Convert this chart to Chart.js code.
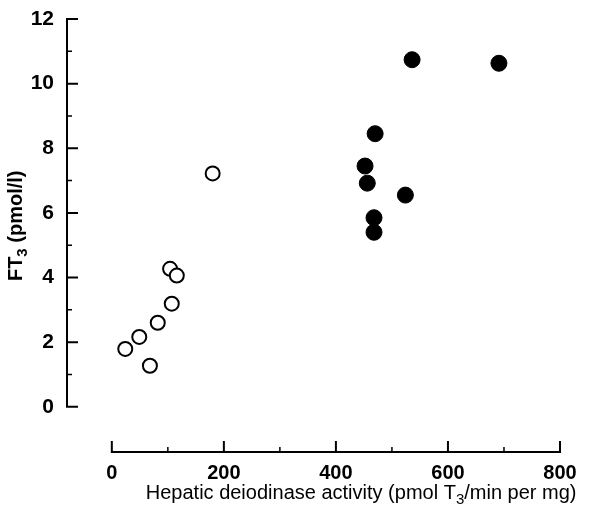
<!DOCTYPE html>
<html>
<head>
<meta charset="utf-8">
<script src="https://cdn.jsdelivr.net/npm/chart.js@4"></script>
<style>
  html, body { margin: 0; padding: 0; background: #fff; }
  #wrap { width: 603px; height: 519px; }
</style>
</head>
<body>
<div id="wrap"><canvas id="c" width="603" height="519"></canvas></div>
<script>
// ---- data ----
const openX   = [24, 49, 68, 82, 104, 107, 116, 180];
const openY   = [1.79, 2.16, 1.27, 2.60, 4.27, 3.19, 4.06, 7.22];
const filledX = [536, 691, 470, 452, 456, 524, 468, 468];
const filledY = [10.74, 10.63, 8.45, 7.45, 6.92, 6.55, 5.85, 5.40];

const xTickValues = [0, 200, 400, 600, 800];
const xMinorTicks = [100, 300, 500, 700];
const yTickValues = [0, 2, 4, 6, 8, 10, 12];
const yMinorTicks = [1, 3, 5, 7, 9, 11];

const xTitle = ['Hepatic deiodinase activity (pmol T', '3', '/min per mg)'];
const yTitle = ['FT', '3', ' (pmol/l)'];

const FAM = '"Liberation Sans", Arial, sans-serif';
const toPts = (xs, ys) => xs.map((x, i) => ({ x: x, y: ys[i] }));

function drawSubText(ctx, parts, mainFont, subFont, x, y, drop) {
  ctx.font = mainFont; const w0 = ctx.measureText(parts[0]).width;
  ctx.font = subFont;  const w1 = ctx.measureText(parts[1]).width;
  ctx.font = mainFont; const w2 = ctx.measureText(parts[2]).width;
  let sx = x - (w0 + w1 + w2) / 2;
  ctx.font = mainFont; ctx.fillText(parts[0], sx, y);
  ctx.font = subFont;  ctx.fillText(parts[1], sx + w0, y + drop);
  ctx.font = mainFont; ctx.fillText(parts[2], sx + w0 + w1, y);
}

const axisPlugin = {
  id: 'axisPlugin',
  afterDraw(chart) {
    const ctx = chart.ctx, xs = chart.scales.x, ys = chart.scales.y, ca = chart.chartArea;
    ctx.save();
    ctx.strokeStyle = '#000';
    ctx.lineCap = 'butt';
    // y axis
    const yx = ca.left;
    ctx.lineWidth = 2;
    ctx.beginPath();
    ctx.moveTo(yx, ys.getPixelForValue(yTickValues[0]) + 1);
    ctx.lineTo(yx, ys.getPixelForValue(yTickValues[yTickValues.length - 1]) - 1);
    yTickValues.forEach(v => { const p = ys.getPixelForValue(v); ctx.moveTo(yx - 1, p); ctx.lineTo(yx + 11, p); });
    ctx.stroke();
    ctx.lineWidth = 1.5;
    ctx.beginPath();
    yMinorTicks.forEach(v => { const p = ys.getPixelForValue(v); ctx.moveTo(yx, p); ctx.lineTo(yx + 5, p); });
    ctx.stroke();
    // x axis
    const xy = ca.bottom;
    ctx.lineWidth = 2;
    ctx.beginPath();
    ctx.moveTo(xs.getPixelForValue(xTickValues[0]) - 1, xy);
    ctx.lineTo(xs.getPixelForValue(xTickValues[xTickValues.length - 1]) + 1, xy);
    xTickValues.forEach(v => { const p = xs.getPixelForValue(v); ctx.moveTo(p, xy + 1); ctx.lineTo(p, xy - 11); });
    ctx.stroke();
    ctx.lineWidth = 1.5;
    ctx.beginPath();
    xMinorTicks.forEach(v => { const p = xs.getPixelForValue(v); ctx.moveTo(p, xy); ctx.lineTo(p, xy - 5); });
    ctx.stroke();

    // titles with subscripts
    ctx.fillStyle = '#000';
    ctx.textBaseline = 'alphabetic';
    drawSubText(ctx, xTitle, '20px ' + FAM, '15px ' + FAM,
                xs.getPixelForValue(445), xy + 47, 5);

    ctx.save();
    ctx.translate(22, ys.getPixelForValue(5.6));
    ctx.rotate(-Math.PI / 2);
    drawSubText(ctx, yTitle, 'bold 20px ' + FAM, 'bold 15px ' + FAM, 0, 0, 5);
    ctx.restore();
    ctx.restore();
  }
};

new Chart(document.getElementById('c'), {
  type: 'scatter',
  data: {
    datasets: [
      {
        label: 'open',
        data: toPts(openX, openY),
        pointStyle: 'circle',
        pointRadius: 7,
        pointHoverRadius: 7,
        pointBorderWidth: 2,
        borderColor: '#000',
        backgroundColor: '#fff'
      },
      {
        label: 'filled',
        data: toPts(filledX, filledY),
        pointStyle: 'circle',
        pointRadius: 8,
        pointHoverRadius: 8,
        pointBorderWidth: 1,
        borderColor: '#000',
        backgroundColor: '#000'
      }
    ]
  },
  options: {
    responsive: false,
    animation: false,
    events: [],
    layout: { padding: { top: 19, right: 43, left: 0, bottom: 0 } },
    plugins: { legend: { display: false }, tooltip: { enabled: false } },
    scales: {
      x: {
        type: 'linear',
        min: -80,
        max: 800,
        grid: { display: false },
        border: { display: false },
        afterFit: s => { s.height = 67; },
        afterBuildTicks: s => { s.ticks = xTickValues.map(v => ({ value: v })); },
        ticks: {
          padding: 1,
          color: '#000',
          maxRotation: 0,
          font: { family: FAM, size: 20, weight: 'bold' }
        }
      },
      y: {
        type: 'linear',
        min: -1.4,
        max: 12,
        grid: { display: false },
        border: { display: false },
        afterFit: s => { s.width = 67; },
        afterBuildTicks: s => { s.ticks = yTickValues.map(v => ({ value: v })); },
        ticks: {
          padding: 5,
          color: '#000',
          font: { family: FAM, size: 21, weight: 'bold' }
        }
      }
    }
  },
  plugins: [axisPlugin]
});
</script>
</body>
</html>
